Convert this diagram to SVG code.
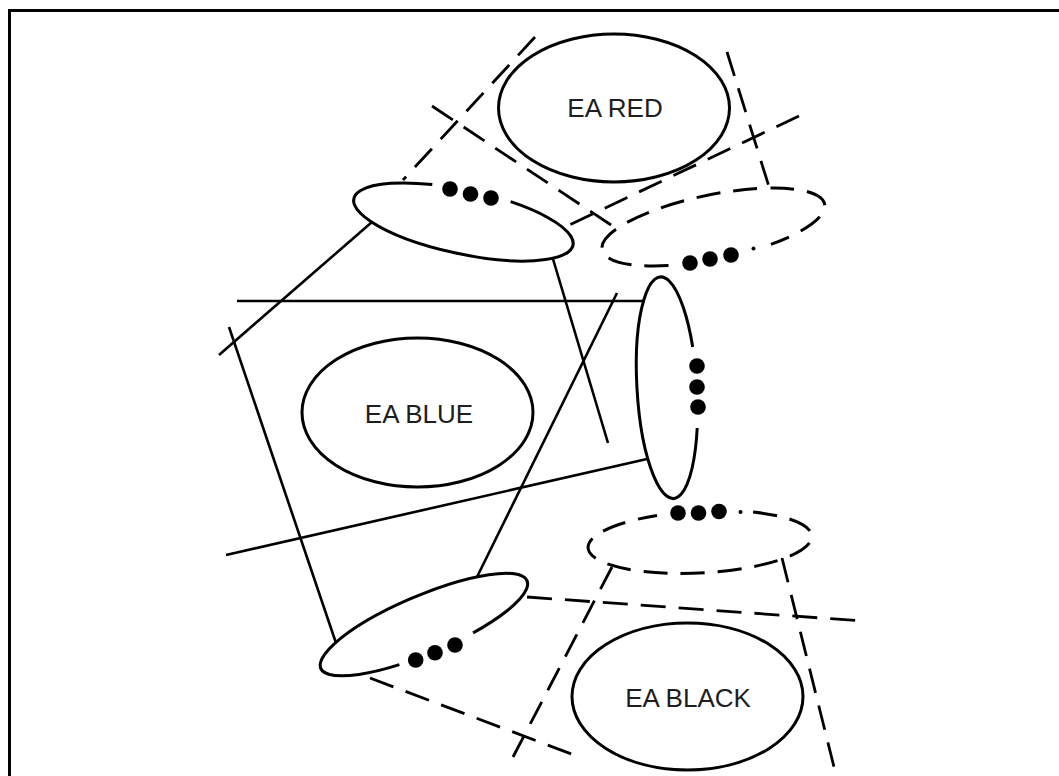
<svg xmlns="http://www.w3.org/2000/svg" width="1059" height="776" viewBox="0 0 1059 776">
<style>
.ell{fill:none;stroke:#000;stroke-width:3}
.dell{fill:none;stroke:#000;stroke-width:3;stroke-dasharray:24 13}
.ln{fill:none;stroke:#000;stroke-width:2.6}
.dln{fill:none;stroke:#000;stroke-width:2.8;stroke-dasharray:25 13}
.dot{fill:#000}
.lbl{font-family:"Liberation Sans",Arial,sans-serif;font-size:26px;fill:#1e1e1e;text-anchor:middle}
.frame{fill:none;stroke:#000;stroke-width:3}
</style>
<rect width="1059" height="776" fill="#fff"/>
<path class="frame" d="M9.5,776 V10.5 H1059"/>
<g id="connectors">
<path class="ln" d="M237,301 L643,301"/>
<path class="ln" d="M372,222 L219,355"/>
<path class="ln" d="M553,259 L608,443"/>
<path class="ln" d="M229,327 L336,643"/>
<path class="ln" d="M647,459 L226,555"/>
<path class="ln" d="M617,293 L477,577"/>
<path class="dln" d="M535,37 L403,180"/>
<path class="dln" d="M432,106 L617,229"/>
<path class="dln" d="M799,116 L563,228"/>
<path class="dln" d="M727,52 L770,190"/>
<path class="dln" d="M527,597 L863,621"/>
<path class="dln" d="M370,678 L582,758"/>
<path class="dln" d="M612,567 L513,757"/>
<path class="dln" d="M782,558 L834,767"/>
</g>
<g id="ea-red">
<ellipse class="ell" cx="614" cy="108" rx="115.5" ry="74"/>
<text class="lbl" x="615" y="117">EA RED</text>
</g>
<g id="ea-blue">
<ellipse class="ell" cx="417.5" cy="412.5" rx="115.5" ry="74.5"/>
<text class="lbl" x="419" y="422.5">EA BLUE</text>
</g>
<g id="ea-black">
<ellipse class="ell" cx="687.5" cy="696.5" rx="115.5" ry="73.5"/>
<text class="lbl" x="688" y="706.5">EA BLACK</text>
</g>
<g id="link-upper-left">
<path class="ell" d="M432.3,184.6 A112,32 12 1 0 510.7,201.7"/>
<circle class="dot" cx="450" cy="189" r="7.8"/>
<circle class="dot" cx="470.5" cy="194" r="7.8"/>
<circle class="dot" cx="491" cy="198" r="7.8"/>
</g>
<g id="link-upper-right">
<path class="dell" d="M668.5,265.6 A113.6,32.3 -11.6 1 1 770.9,244.4"/>
<circle class="dot" cx="753.5" cy="248.5" r="2"/>
<circle class="dot" cx="690" cy="263" r="7.8"/>
<circle class="dot" cx="710" cy="259" r="7.8"/>
<circle class="dot" cx="731" cy="255" r="7.8"/>
</g>
<g id="link-middle-right">
<path class="ell" d="M692.7,347 A30,111 -3.4 1 0 697.2,428"/>
<circle class="dot" cx="697" cy="366" r="7.8"/>
<circle class="dot" cx="697" cy="387" r="7.8"/>
<circle class="dot" cx="698" cy="407" r="7.8"/>
</g>
<g id="link-lower-right">
<path class="dell" d="M753.1,512.1 A112,31 -3 1 1 657,515.4"/>
<circle class="dot" cx="740.5" cy="512" r="2"/>
<circle class="dot" cx="678" cy="513" r="7.8"/>
<circle class="dot" cx="698.5" cy="513" r="7.8"/>
<circle class="dot" cx="719" cy="511.5" r="7.8"/>
</g>
<g id="link-lower-left">
<path class="ell" d="M399.4,664.6 A112,29 -23 1 1 473.1,632.9"/>
<circle class="dot" cx="415.7" cy="660" r="7.8"/>
<circle class="dot" cx="435" cy="652.7" r="7.8"/>
<circle class="dot" cx="455" cy="645" r="7.8"/>
</g>
</svg>
